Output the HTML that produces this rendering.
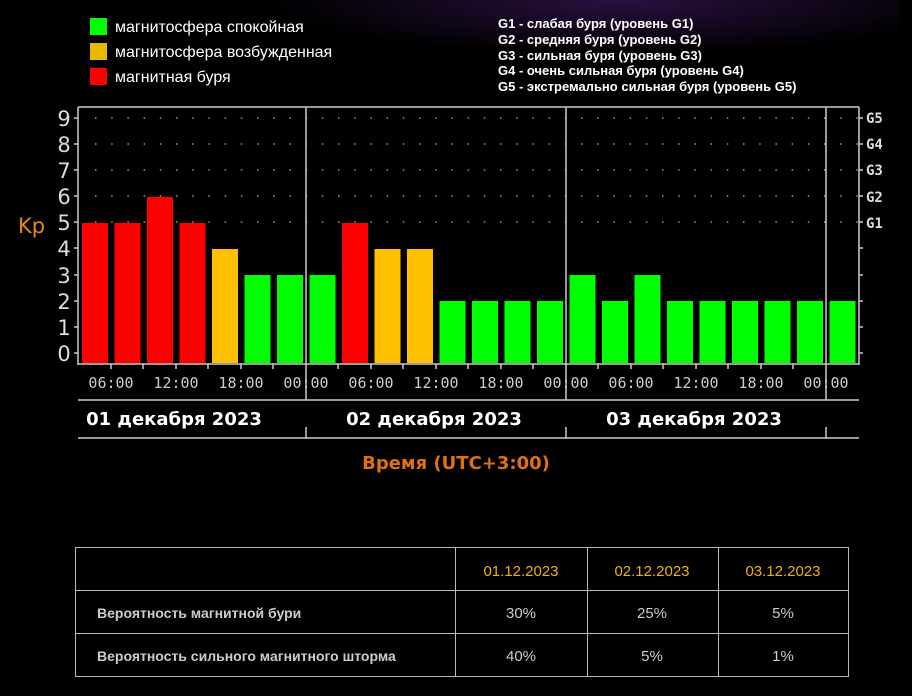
<!DOCTYPE html>
<html><head><meta charset="utf-8"><style>
body{margin:0;background:#000;width:912px;height:696px;overflow:hidden}
svg{display:block}
</style></head><body>
<svg width="912" height="696" viewBox="0 0 912 696" xmlns="http://www.w3.org/2000/svg">
<defs><radialGradient id="g" cx="0.6" cy="0" r="0.5"><stop offset="0" stop-color="#2a1040"/><stop offset="1" stop-color="#000"/></radialGradient></defs>
<rect width="912" height="696" fill="#000"/>
<rect x="200" y="0" width="700" height="110" fill="url(#g)"/>
<g font-family="Liberation Sans, sans-serif" font-size="16" fill="#fff">
<rect x="90" y="18" width="17" height="17" fill="#00ff00"/><text x="115" y="32">магнитосфера спокойная</text>
<rect x="90" y="43" width="17" height="17" fill="#e6b800"/><text x="115" y="57">магнитосфера возбужденная</text>
<rect x="90" y="68" width="17" height="17" fill="#ff0000"/><text x="115" y="82">магнитная буря</text>
</g>
<g font-family="Liberation Sans, sans-serif" font-size="13" font-weight="bold" fill="#fff">
<text x="498" y="28">G1 - слабая буря (уровень G1)</text>
<text x="498" y="44">G2 - средняя буря (уровень G2)</text>
<text x="498" y="60">G3 - сильная буря (уровень G3)</text>
<text x="498" y="75">G4 - очень сильная буря (уровень G4)</text>
<text x="498" y="91">G5 - экстремально сильная буря (уровень G5)</text>
</g>
<g stroke="#999" stroke-width="1.5" stroke-dasharray="1.5 14.7">
<line x1="95" y1="118" x2="859" y2="118"/><line x1="95" y1="144" x2="859" y2="144"/><line x1="95" y1="170" x2="859" y2="170"/><line x1="95" y1="196" x2="859" y2="196"/><line x1="95" y1="222" x2="859" y2="222"/>
</g>
<g stroke="#ccc" stroke-width="1.5" fill="none">
<line x1="78" y1="107" x2="859" y2="107"/>
<line x1="78" y1="107" x2="78" y2="365"/>
<line x1="859" y1="107" x2="859" y2="365"/>
<line x1="78" y1="364" x2="859" y2="364"/>
<line x1="306" y1="107" x2="306" y2="400"/><line x1="566" y1="107" x2="566" y2="400"/><line x1="826" y1="107" x2="826" y2="400"/>
<line x1="78" y1="400" x2="859" y2="400"/><line x1="78" y1="438" x2="859" y2="438"/>
<line x1="306" y1="427" x2="306" y2="438"/><line x1="566" y1="427" x2="566" y2="438"/><line x1="826" y1="427" x2="826" y2="438"/>
</g>
<g stroke="#ccc" stroke-width="1.5">
<line x1="74" y1="118" x2="78" y2="118"/><line x1="74" y1="144" x2="78" y2="144"/><line x1="74" y1="170" x2="78" y2="170"/><line x1="74" y1="196" x2="78" y2="196"/><line x1="74" y1="222" x2="78" y2="222"/><line x1="74" y1="248" x2="78" y2="248"/><line x1="74" y1="275" x2="78" y2="275"/><line x1="74" y1="301" x2="78" y2="301"/><line x1="74" y1="327" x2="78" y2="327"/><line x1="74" y1="353" x2="78" y2="353"/>
<line x1="859" y1="118" x2="863" y2="118"/><line x1="859" y1="144" x2="863" y2="144"/><line x1="859" y1="170" x2="863" y2="170"/><line x1="859" y1="196" x2="863" y2="196"/><line x1="859" y1="222" x2="863" y2="222"/><line x1="859" y1="248" x2="863" y2="248"/><line x1="859" y1="275" x2="863" y2="275"/><line x1="859" y1="301" x2="863" y2="301"/><line x1="859" y1="327" x2="863" y2="327"/><line x1="859" y1="353" x2="863" y2="353"/>
<line x1="111" y1="364" x2="111" y2="369"/><line x1="143" y1="364" x2="143" y2="369"/><line x1="176" y1="364" x2="176" y2="369"/><line x1="208" y1="364" x2="208" y2="369"/><line x1="241" y1="364" x2="241" y2="369"/><line x1="273" y1="364" x2="273" y2="369"/><line x1="338" y1="364" x2="338" y2="369"/><line x1="371" y1="364" x2="371" y2="369"/><line x1="403" y1="364" x2="403" y2="369"/><line x1="436" y1="364" x2="436" y2="369"/><line x1="468" y1="364" x2="468" y2="369"/><line x1="501" y1="364" x2="501" y2="369"/><line x1="533" y1="364" x2="533" y2="369"/><line x1="598" y1="364" x2="598" y2="369"/><line x1="631" y1="364" x2="631" y2="369"/><line x1="663" y1="364" x2="663" y2="369"/><line x1="696" y1="364" x2="696" y2="369"/><line x1="728" y1="364" x2="728" y2="369"/><line x1="761" y1="364" x2="761" y2="369"/><line x1="793" y1="364" x2="793" y2="369"/>
</g>
<g>
<rect x="82" y="223" width="26" height="140" fill="#ff0000"/>
<rect x="114.5" y="223" width="26" height="140" fill="#ff0000"/>
<rect x="147" y="197" width="26" height="166" fill="#ff0000"/>
<rect x="179.5" y="223" width="26" height="140" fill="#ff0000"/>
<rect x="212" y="249" width="26" height="114" fill="#ffc000"/>
<rect x="244.5" y="275" width="26" height="88" fill="#00ff00"/>
<rect x="277" y="275" width="26" height="88" fill="#00ff00"/>
<rect x="309.5" y="275" width="26" height="88" fill="#00ff00"/>
<rect x="342" y="223" width="26" height="140" fill="#ff0000"/>
<rect x="374.5" y="249" width="26" height="114" fill="#ffc000"/>
<rect x="407" y="249" width="26" height="114" fill="#ffc000"/>
<rect x="439.5" y="301" width="26" height="62" fill="#00ff00"/>
<rect x="472" y="301" width="26" height="62" fill="#00ff00"/>
<rect x="504.5" y="301" width="26" height="62" fill="#00ff00"/>
<rect x="537" y="301" width="26" height="62" fill="#00ff00"/>
<rect x="569.5" y="275" width="26" height="88" fill="#00ff00"/>
<rect x="602" y="301" width="26" height="62" fill="#00ff00"/>
<rect x="634.5" y="275" width="26" height="88" fill="#00ff00"/>
<rect x="667" y="301" width="26" height="62" fill="#00ff00"/>
<rect x="699.5" y="301" width="26" height="62" fill="#00ff00"/>
<rect x="732" y="301" width="26" height="62" fill="#00ff00"/>
<rect x="764.5" y="301" width="26" height="62" fill="#00ff00"/>
<rect x="797" y="301" width="26" height="62" fill="#00ff00"/>
<rect x="829.5" y="301" width="26" height="62" fill="#00ff00"/>
</g>
<g font-family="DejaVu Sans, sans-serif" font-size="21" fill="#ddd" text-anchor="middle">
<text x="64" y="126">9</text><text x="64" y="152">8</text><text x="64" y="178">7</text><text x="64" y="204">6</text><text x="64" y="230">5</text><text x="64" y="256">4</text><text x="64" y="283">3</text><text x="64" y="309">2</text><text x="64" y="335">1</text><text x="64" y="361">0</text>
</g>
<text x="18" y="233" font-family="DejaVu Sans, sans-serif" font-size="21" fill="#e08a1e">Kp</text>
<g font-family="DejaVu Sans Mono, monospace" font-size="14" font-weight="bold" fill="#ddd">
<text x="866" y="123">G5</text><text x="866" y="149">G4</text><text x="866" y="175">G3</text><text x="866" y="202">G2</text><text x="866" y="228">G1</text>
</g>
<g font-family="DejaVu Sans Mono, monospace" font-size="15" fill="#ccc" text-anchor="middle">
<text x="111" y="388">06:00</text><text x="176" y="388">12:00</text><text x="241" y="388">18:00</text><text x="306" y="388">00:00</text>
<text x="371" y="388">06:00</text><text x="436" y="388">12:00</text><text x="501" y="388">18:00</text><text x="566" y="388">00:00</text>
<text x="631" y="388">06:00</text><text x="696" y="388">12:00</text><text x="761" y="388">18:00</text><text x="826" y="388">00:00</text>
</g>
<g font-family="DejaVu Sans, sans-serif" font-size="18" font-weight="bold" fill="#fff" text-anchor="middle">
<text x="174" y="425">01 декабря 2023</text><text x="434" y="425">02 декабря 2023</text><text x="694" y="425">03 декабря 2023</text>
</g>
<text x="456" y="469" font-family="DejaVu Sans, sans-serif" font-size="18" font-weight="bold" fill="#e07010" text-anchor="middle">Время (UTC+3:00)</text>
<g stroke="#bbb" stroke-width="1" fill="none">
<rect x="75.5" y="547.5" width="773" height="129"/>
<line x1="75" y1="590.5" x2="849" y2="590.5"/><line x1="75" y1="633.5" x2="849" y2="633.5"/>
<line x1="455.5" y1="547" x2="455.5" y2="677"/><line x1="587.5" y1="547" x2="587.5" y2="677"/><line x1="718.5" y1="547" x2="718.5" y2="677"/>
</g>
<g font-family="Liberation Sans, sans-serif" font-size="15" text-anchor="middle">
<text x="521" y="576" fill="#f0b400">01.12.2023</text><text x="652" y="576" fill="#f0b400">02.12.2023</text><text x="783" y="576" fill="#f0b400">03.12.2023</text>
<text x="521" y="618" fill="#ccc">30%</text><text x="652" y="618" fill="#ccc">25%</text><text x="783" y="618" fill="#ccc">5%</text>
<text x="521" y="661" fill="#ccc">40%</text><text x="652" y="661" fill="#ccc">5%</text><text x="783" y="661" fill="#ccc">1%</text>
</g>
<g font-family="Liberation Sans, sans-serif" font-size="14" font-weight="bold" fill="#ccc">
<text x="97" y="618">Вероятность магнитной бури</text>
<text x="97" y="661">Вероятность сильного магнитного шторма</text>
</g>
</svg>
</body></html>
